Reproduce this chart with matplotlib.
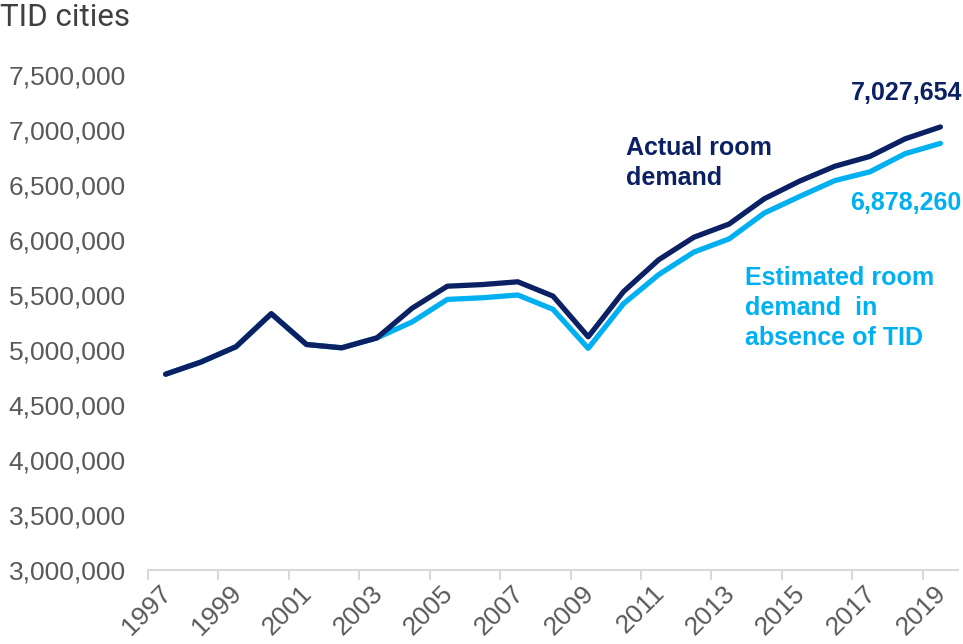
import matplotlib
matplotlib.use("Agg")
import matplotlib.pyplot as plt
import matplotlib.transforms as mtransforms
from matplotlib.ticker import FuncFormatter, FixedLocator

# room demand in TID cities, 1997-2019
years = list(range(1997, 2020))
actual = [4780000, 4890000, 5030000, 5330000, 5050000, 5020000, 5110000,
          5380000, 5580000, 5595000, 5620000, 5490000, 5120000, 5530000,
          5820000, 6025000, 6145000, 6375000, 6535000, 6670000, 6760000,
          6920000, 7027654]
estimated = [4780000, 4890000, 5030000, 5330000, 5050000, 5020000, 5110000,
             5255000, 5460000, 5475000, 5500000, 5370000, 5015000, 5420000,
             5685000, 5890000, 6010000, 6245000, 6395000, 6540000, 6620000,
             6785000, 6878260]

DARK = "#0B2163"
LIGHT = "#00B0F0"
GREY = "#595959"
AXIS = "#D9D9D9"

fig = plt.figure(figsize=(9.63, 6.44), dpi=100)
ax = fig.add_axes([148/963, 74/644, 810/963, 495/644])

x = list(range(len(years)))
ax.plot(x, estimated, color=LIGHT, lw=3.8, solid_joinstyle="round", solid_capstyle="round")
ax.plot(x, actual, color=DARK, lw=3.8, solid_joinstyle="round", solid_capstyle="round")

ax.set_xlim(-0.5, len(years) - 0.5)
ax.set_ylim(3000000, 7500000)

# y axis: labels only
ax.set_yticks(range(3000000, 7500001, 500000))
ax.yaxis.set_major_formatter(FuncFormatter(lambda v, p: f"{int(v):,}"))
ax.tick_params(axis="y", length=0, pad=16, labelsize=19, labelcolor=GREY)

# x axis: category labels every 2 years, tick marks on boundaries
ax.set_xticks(x[::2])
ax.set_xticklabels([str(y) for y in years[::2]], rotation=45, ha="right",
                   va="center", rotation_mode="anchor")
ax.xaxis.set_minor_locator(FixedLocator([i - 0.5 for i in x[::2]]))
ax.tick_params(axis="x", which="major", length=0, pad=14, labelsize=19, labelcolor=GREY)
ax.tick_params(axis="x", which="minor", length=7, width=1.5, color=AXIS)

for s in ["top", "right", "left"]:
    ax.spines[s].set_visible(False)
ax.spines["bottom"].set_color(AXIS)
ax.spines["bottom"].set_linewidth(1.5)

shift = mtransforms.ScaledTranslation(2/100, 0, fig.dpi_scale_trans)
for lab in ax.get_xticklabels():
    lab.set_transform(lab.get_transform() + shift)
for lab in ax.get_yticklabels() + ax.get_xticklabels():
    lab.set_family(["Liberation Sans", "DejaVu Sans"])

fig.text(0.0, 1 - 18/644, "TID cities", fontsize=22.5, color="#404040",
         family=["Roboto", "DejaVu Sans"], va="center")

bold = dict(fontsize=18, fontweight="bold", family=["Liberation Sans", "DejaVu Sans"],
            linespacing=1.3, clip_on=False)
ax.text(13.08, 6700000, "Actual room\ndemand", color=DARK, va="center", ha="left", **bold)
ax.text(16.46, 5380000, "Estimated room\ndemand  in\nabsence of TID", color=LIGHT,
        va="center", ha="left", **bold)
ax.text(19.45, 7336000, f"{actual[-1]:,}", color=DARK, va="center", ha="left", **bold)
ax.text(19.45, 6336000, f"{estimated[-1]:,}", color=LIGHT, va="center", ha="left", **bold)

fig.savefig("out.png", dpi=100)
